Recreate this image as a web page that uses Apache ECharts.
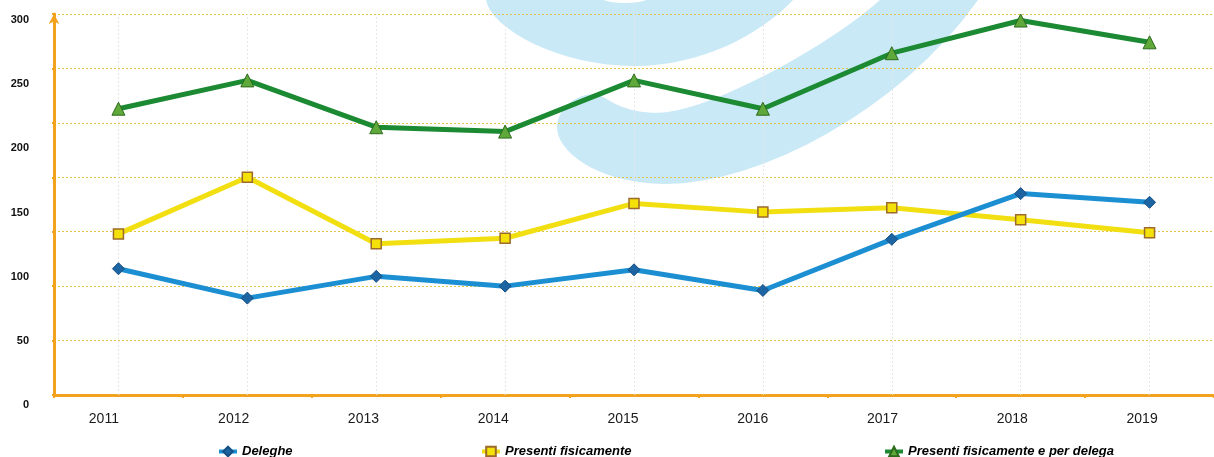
<!DOCTYPE html>
<html>
<head>
<meta charset="utf-8">
<script src="https://cdn.jsdelivr.net/npm/echarts@6/dist/echarts.min.js"></script>
<style>
  html, body { margin: 0; padding: 0; background: #ffffff; }
  #chart { width: 1214px; height: 457px; }
</style>
</head>
<body>
<div id="chart"></div>
<script>
// Anni e valori delle tre serie
const years = ['2011', '2012', '2013', '2014', '2015', '2016', '2017', '2018', '2019'];
const deleghe = [116, 89, 109, 100, 115, 96, 143, 185, 177];
const presenti = [148, 200, 139, 144, 176, 168, 172, 161, 149];
const totale = [263, 289, 246, 242, 289, 263, 314, 344, 324];
// Etichette dell'asse verticale
const yTickLabels = [0, 50, 100, 150, 200, 250, 300];
const gridTop = 350;      // estensione della scala delle griglie
const gridStep = 50;

const ORANGE = '#f2a21c';
const FONT = '"Liberation Sans", Arial, Helvetica, sans-serif';

// Converte un contorno fatto di curve cubiche in un poligono
function outline(start, curves) {
  const pts = [start];
  let p0 = start;
  curves.forEach(c => {
    if (c.length === 1) { pts.push(c[0]); p0 = c[0]; return; }
    const [p1, p2, p3] = c;
    for (let i = 1; i <= 16; i++) {
      const t = i / 16, u = 1 - t;
      pts.push([
        u*u*u*p0[0] + 3*u*u*t*p1[0] + 3*u*t*t*p2[0] + t*t*t*p3[0],
        u*u*u*p0[1] + 3*u*u*t*p1[1] + 3*u*t*t*p2[1] + t*t*t*p3[1]
      ]);
    }
    p0 = p3;
  });
  return pts;
}
const logoTop = outline([486, 0], [
  [[492, 30], [560, 66], [635, 66]],
  [[700, 66], [760, 35], [793, 0]],
  [[646, 0]],
  [[638, 4], [612, 4], [604, 0]]
]);
const logoHook = outline([880, 0], [
  [[830, 45], [720, 105], [668, 112]],
  [[640, 115], [620, 108], [605, 98]],
  [[590, 88], [560, 100], [557, 125]],
  [[555, 150], [595, 183], [665, 184]],
  [[760, 184], [900, 110], [978, 0]]
]);

const chart = echarts.init(document.getElementById('chart'), null, { renderer: 'canvas' });

const legendText = {
  fontFamily: FONT, fontSize: 13, fontWeight: 'bold', fontStyle: 'italic', color: '#000'
};
function legendAt(name, left) {
  return {
    data: [name], left: left, top: 445, orient: 'horizontal',
    itemWidth: 18, itemHeight: 12, padding: 0,
    lineStyle: { width: 4 },
    textStyle: legendText, selectedMode: false
  };
}

const option = {
  backgroundColor: '#ffffff',
  animation: false,
  // logo decorativo sullo sfondo
  graphic: [
    { type: 'polygon', z: -10, silent: true, shape: { points: logoTop }, style: { fill: '#c9e9f7' } },
    { type: 'polygon', z: -10, silent: true, shape: { points: logoHook }, style: { fill: '#c9e9f7' } }
  ],
  legend: [
    legendAt('Deleghe', 217),
    legendAt('Presenti fisicamente', 480),
    legendAt('Presenti fisicamente e per delega', 883)
  ],
  grid: [
    { left: 54, right: -8, top: 14, bottom: 62 },   // area del grafico
    { left: 54, right: -8, top: 20, bottom: 52 },   // etichette verticali
    { left: 39, right: 7, top: 14, bottom: 62 }     // etichette degli anni
  ],
  xAxis: [
    {
      gridIndex: 0, type: 'category', data: years, boundaryGap: true,
      axisLine: { show: true, lineStyle: { color: ORANGE, width: 3 } },
      axisTick: { show: true, interval: 0, length: 3, lineStyle: { color: ORANGE, width: 2 } },
      axisLabel: { show: false },
      splitLine: { show: false }
    },
    { gridIndex: 1, type: 'category', data: years, show: false },
    {
      gridIndex: 2, type: 'category', data: years, boundaryGap: true,
      axisLine: { show: false }, axisTick: { show: false }, splitLine: { show: false },
      axisLabel: { show: true, interval: 0, margin: 17, fontFamily: FONT, fontSize: 14, color: '#1a1a1a' }
    }
  ],
  yAxis: [
    {
      gridIndex: 0, type: 'value', min: 0, max: gridTop, interval: gridStep,
      axisLine: { show: true, lineStyle: { color: ORANGE, width: 3 }, symbol: ['none', 'arrow'], symbolSize: [8, 10] },
      axisTick: { show: true, length: 2, lineStyle: { color: ORANGE, width: 2 } },
      axisLabel: { show: false },
      splitLine: { show: true, lineStyle: { color: '#e3c24a', type: [2, 2], width: 1 } }
    },
    {
      gridIndex: 1, type: 'value',
      min: yTickLabels[0], max: yTickLabels[yTickLabels.length - 1],
      interval: yTickLabels[1] - yTickLabels[0],
      axisLine: { show: false }, axisTick: { show: false }, splitLine: { show: false },
      axisLabel: { show: true, margin: 25, fontFamily: FONT, fontSize: 11, fontWeight: 'bold', color: '#111' }
    },
    { gridIndex: 2, type: 'value', show: false }
  ],
  series: [
    {
      name: 'Presenti fisicamente', type: 'line', data: presenti,
      xAxisIndex: 0, yAxisIndex: 0, z: 2,
      lineStyle: { color: '#f2df12', width: 5 },
      itemStyle: { color: '#f4e10a', borderColor: '#9c6a2a', borderWidth: 1.5 },
      symbol: 'rect', symbolSize: 10, showSymbol: true,
      markLine: {
        silent: true, z: 1, symbol: ['none', 'none'], label: { show: false },
        lineStyle: { color: '#e6e6e6', type: [2, 2], width: 1 },
        emphasis: { disabled: true },
        data: years.map(y => ({ xAxis: y }))
      }
    },
    {
      name: 'Deleghe', type: 'line', data: deleghe,
      xAxisIndex: 0, yAxisIndex: 0, z: 3,
      lineStyle: { color: '#1b8fd2', width: 5 },
      itemStyle: { color: '#1d64a3', borderColor: '#164f84', borderWidth: 1 },
      symbol: 'diamond', symbolSize: 12, showSymbol: true
    },
    {
      name: 'Presenti fisicamente e per delega', type: 'line', data: totale,
      xAxisIndex: 0, yAxisIndex: 0, z: 4,
      lineStyle: { color: '#1b8a33', width: 5 },
      itemStyle: { color: '#5fa83a', borderColor: '#2c6a1e', borderWidth: 1 },
      symbol: 'triangle', symbolSize: 13, showSymbol: true
    }
  ]
};

chart.setOption(option);
</script>
</body>
</html>
